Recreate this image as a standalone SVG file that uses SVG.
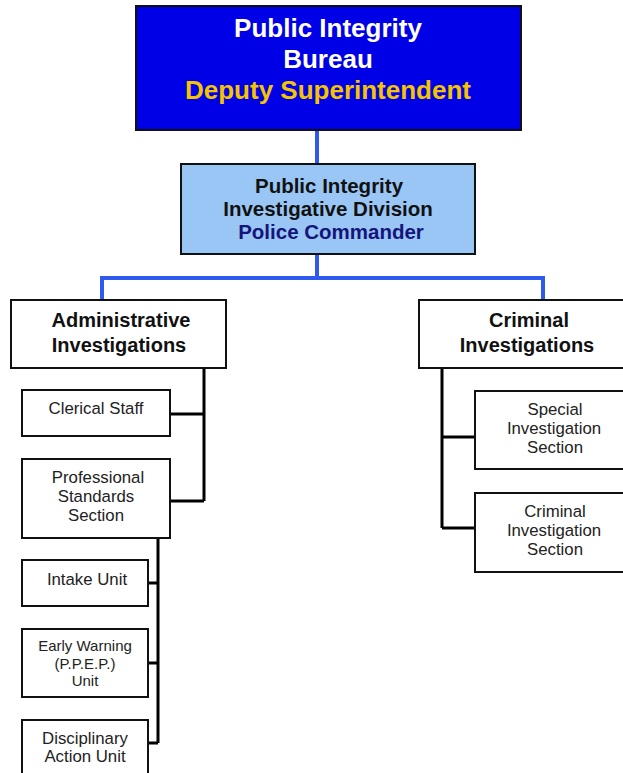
<svg xmlns="http://www.w3.org/2000/svg" width="623" height="773" viewBox="0 0 623 773">
<style>
text{font-family:"Liberation Sans",Arial,sans-serif;text-anchor:middle}
.b{font-weight:bold}
.box{fill:#fff;stroke:#111;stroke-width:2}
.blue{fill:none;stroke:#2f5af0;stroke-width:4}
.blk{fill:none;stroke:#000;stroke-width:3}
.s{font-size:16.8px;fill:#222}
</style>
<rect width="623" height="773" fill="#fff"/>
<g id="connectors">
<path class="blue" d="M317 130V164M317 254V278M102 300V278H543V300"/>
<path class="blk" d="M204 368V501M170 414H204M170 501H204"/>
<path class="blk" d="M158 538V743M148 583H158M148 663H158M148 743H158"/>
<path class="blk" d="M442 368V528M442 437H475M442 528H475"/>
</g>
<g id="bureau">
<rect x="136" y="6" width="385" height="124" fill="#0000e6" stroke="#111" stroke-width="2"/>
<text class="b" x="328" y="37" font-size="26" fill="#fff">Public Integrity</text>
<text class="b" x="328" y="68" font-size="26" fill="#fff">Bureau</text>
<text class="b" x="328" y="99" font-size="26" fill="#f5c400">Deputy Superintendent</text>
</g>
<g id="division">
<rect x="181" y="164" width="294" height="90" fill="#99c6f5" stroke="#111" stroke-width="2"/>
<text class="b" x="329" y="193" font-size="20.5" fill="#111">Public Integrity</text>
<text class="b" x="328" y="216" font-size="20.5" fill="#111">Investigative Division</text>
<text class="b" x="331" y="239" font-size="20.5" fill="#14147a">Police Commander</text>
</g>
<g id="admin">
<rect class="box" x="11" y="300" width="215" height="68"/>
<text class="b" x="121" y="327" font-size="20" fill="#111">Administrative</text>
<text class="b" x="119" y="352" font-size="20" fill="#111">Investigations</text>
</g>
<g id="criminal">
<rect class="box" x="419" y="300" width="230" height="68"/>
<text class="b" x="529" y="327" font-size="20" fill="#111">Criminal</text>
<text class="b" x="527" y="352" font-size="20" fill="#111">Investigations</text>
</g>
<g id="clerical">
<rect class="box" x="22" y="390" width="148" height="46"/>
<text class="s" x="96" y="414">Clerical Staff</text>
</g>
<g id="pss">
<rect class="box" x="22" y="459" width="148" height="79"/>
<text class="s" x="98" y="483">Professional</text>
<text class="s" x="96" y="502">Standards</text>
<text class="s" x="96" y="521">Section</text>
</g>
<g id="intake">
<rect class="box" x="22" y="560" width="126" height="46"/>
<text class="s" x="87" y="585">Intake Unit</text>
</g>
<g id="early">
<rect class="box" x="22" y="629" width="126" height="68"/>
<text x="85" y="651" font-size="15" fill="#222">Early Warning</text>
<text x="85" y="669" font-size="15" fill="#222">(P.P.E.P.)</text>
<text x="85" y="686" font-size="15" fill="#222">Unit</text>
</g>
<g id="disciplinary">
<rect class="box" x="22" y="720" width="126" height="70"/>
<text class="s" x="85" y="744">Disciplinary</text>
<text class="s" x="85" y="762">Action Unit</text>
</g>
<g id="special">
<rect class="box" x="475" y="391" width="170" height="78"/>
<text class="s" x="555" y="415">Special</text>
<text class="s" x="554" y="434">Investigation</text>
<text class="s" x="555" y="453">Section</text>
</g>
<g id="cis">
<rect class="box" x="475" y="493" width="170" height="79"/>
<text class="s" x="555" y="517">Criminal</text>
<text class="s" x="554" y="536">Investigation</text>
<text class="s" x="555" y="555">Section</text>
</g>
</svg>
